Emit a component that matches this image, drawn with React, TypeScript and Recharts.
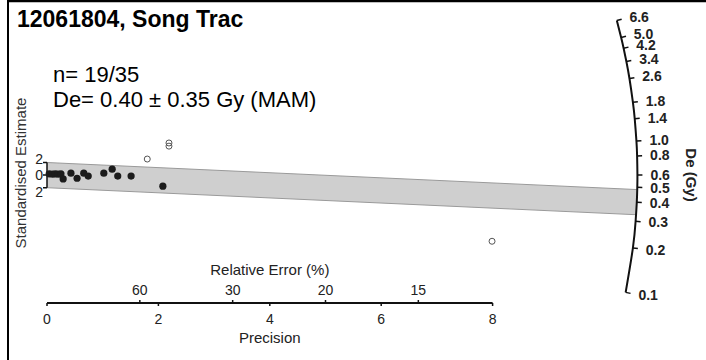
import {
  ComposedChart, XAxis, YAxis, Scatter, Area, Line,
  ReferenceLine, ReferenceDot,
} from 'recharts';

const FONT = '"Liberation Sans", Arial, sans-serif';

const TITLE = '12061804, Song Trac';
const N_LABEL = 'n= 19/35';
const DE_LABEL = 'De= 0.40 ± 0.35 Gy (MAM)';

// centring value of the radial plot and the MAM result (Gy)
const REF_DE = 0.6;
const MAM_DE = 0.40;

// grains inside the ±2 band: precision (1/σ) and standardised estimate
const IN_PRECISION = [0.04, 0.1, 0.15, 0.2, 0.25, 0.29, 0.43, 0.54, 0.66, 0.74, 1.02, 1.17, 1.27, 1.51, 2.08];
const IN_ESTIMATE = [0.2, 0.15, 0.2, 0.15, 0.2, -0.6, 0.3, -0.5, 0.3, -0.15, 0.3, 0.95, -0.15, -0.15, -1.75];
// grains outside the band
const OUT_PRECISION = [1.8, 2.19, 2.19, 7.99];
const OUT_ESTIMATE = [2.55, 5.1, 4.6, -10.5];

const PRECISION_TICKS = [0, 2, 4, 6, 8];
const REL_ERROR_TICKS = [60, 30, 20, 15];
const DE_TICKS = [6.6, 5.0, 4.2, 3.4, 2.6, 1.8, 1.4, 1.0, 0.8, 0.6, 0.5, 0.4, 0.3, 0.2, 0.1];
const Z_TICKS = [2, 0, -2];

// plot geometry
const X_MIN = -0.8;
const X_MAX = 11.6;
const Y_MIN = -20.3;
const Y_MAX = 26.2;
const PX_X = 55.7;   // px per precision unit
const PX_Y = 6.3;    // px per standardised unit
const K = PX_Y / PX_X;
const ARC_R = 10.6;  // radius of the De axis, precision units

const inData = IN_PRECISION.map((x, i) => ({ x, y: IN_ESTIMATE[i] }));
const outData = OUT_PRECISION.map((x, i) => ({ x, y: OUT_ESTIMATE[i] }));

function arcPoint(de: number) {
  const s = Math.log(de) - Math.log(REF_DE);
  const x = ARC_R / Math.sqrt(1 + (s * K) ** 2);
  return { x, y: s * x, s, label: de.toFixed(1) };
}
const arcData = DE_TICKS.map(arcPoint);

const slope = Math.log(MAM_DE) - Math.log(REF_DE);
const bandEnd = ARC_R / Math.sqrt(1 + (slope * K) ** 2);
const bandData = [
  { x: 0, band: [-2, 2] },
  { x: bandEnd, band: [slope * bandEnd - 2, slope * bandEnd + 2] },
];

const reData = REL_ERROR_TICKS.map(re => ({ x: 100 / re, y: Y_MIN, label: String(re) }));
const zData = Z_TICKS.map(z => ({ x: 0, y: z, label: String(Math.abs(z)) }));

const ArcTick = (p: any) => {
  const th = Math.atan(p.payload.s * K);
  const dx = Math.cos(th), dy = -Math.sin(th);
  return (
    <g>
      <line x1={p.cx} y1={p.cy} x2={p.cx + 5 * dx} y2={p.cy + 5 * dy} stroke="#111" strokeWidth={1.5} />
      <text x={p.cx + 13 * dx} y={p.cy + 13 * dy + 5} fontSize={14} fontWeight="bold"
        fill="#222" fontFamily={FONT}>{p.payload.label}</text>
    </g>
  );
};

const ZTick = (p: any) => {
  const shift = p.payload.y > 0 ? -4 : p.payload.y < 0 ? 4 : 0;
  return (
    <g>
      <line x1={p.cx - 4} y1={p.cy} x2={p.cx} y2={p.cy} stroke="#111" strokeWidth={1.5} />
      <text x={p.cx - 4} y={p.cy + 5 + shift} fontSize={14} textAnchor="end"
        fill="#222" fontFamily={FONT}>{p.payload.label}</text>
    </g>
  );
};

const ReTick = (p: any) => (
  <g>
    <line x1={p.cx} y1={p.cy} x2={p.cx} y2={p.cy - 3} stroke="#111" strokeWidth={1.5} />
    <text x={p.cx} y={p.cy - 8} fontSize={14} textAnchor="middle"
      fill="#222" fontFamily={FONT}>{p.payload.label}</text>
  </g>
);

const Filled = (p: any) => <circle cx={p.cx} cy={p.cy} r={3.6} fill="#1c1c1c" />;
const Open = (p: any) => <circle cx={p.cx} cy={p.cy} r={3} fill="none" stroke="#555" strokeWidth={1} />;

export default function App() {
  return (
    <div style={{ position: 'absolute', left: 0, top: 0, width: 706, height: 360, background: '#fff' }}>
      <ComposedChart
        width={706}
        height={360}
        margin={{ top: 10.05, right: 12.88, left: 2.44, bottom: 17 }}
      >
        <XAxis
          type="number"
          dataKey="x"
          domain={[X_MIN, X_MAX]}
          allowDataOverflow
          ticks={PRECISION_TICKS}
          interval={0}
          axisLine={false}
          tickLine={{ stroke: '#111', strokeWidth: 1.5 }}
          tickSize={3}
          tickMargin={8}
          height={40}
          tick={{ fontSize: 14, fill: '#222', fontFamily: FONT }}
        />
        <YAxis type="number" dataKey="y" domain={[Y_MIN, Y_MAX]} allowDataOverflow hide />

        <Area
          data={bandData}
          dataKey="band"
          type="linear"
          fill="#cfcfcf"
          fillOpacity={1}
          stroke="#9a9a9a"
          strokeWidth={1}
          isAnimationActive={false}
        />

        <ReferenceLine segment={[{ x: 0, y: Y_MIN }, { x: 8, y: Y_MIN }]} stroke="#111" strokeWidth={2} ifOverflow="visible" />
        <ReferenceLine segment={[{ x: 0, y: -2 }, { x: 0, y: 2 }]} stroke="#111" strokeWidth={1.5} ifOverflow="visible" />

        <ReferenceDot
          x={4} y={Y_MIN} r={0} fill="none" stroke="none" ifOverflow="visible"
          label={{ value: 'Relative Error (%)', position: 'top', offset: 28, fontSize: 15, fill: '#222', fontFamily: FONT }}
        />
        <ReferenceDot
          x={4} y={Y_MIN} r={0} fill="none" stroke="none" ifOverflow="visible"
          label={{ value: 'Precision', position: 'bottom', offset: 29, fontSize: 15, fill: '#222', fontFamily: FONT }}
        />

        <Line
          data={arcData}
          dataKey="y"
          type="natural"
          stroke="#111"
          strokeWidth={2}
          dot={false}
          isAnimationActive={false}
        />
        <Scatter data={arcData} shape={ArcTick} isAnimationActive={false} />
        <Scatter data={reData} shape={ReTick} isAnimationActive={false} />
        <Scatter data={zData} shape={ZTick} isAnimationActive={false} />

        <Scatter data={outData} shape={Open} isAnimationActive={false} />
        <Scatter data={inData} shape={Filled} isAnimationActive={false} />
      </ComposedChart>

      <svg width={706} height={360} style={{ position: 'absolute', left: 0, top: 0, pointerEvents: 'none' }}>
        <line x1={8} y1={0} x2={8} y2={360} stroke="#000" strokeWidth={2} />
        <line x1={7} y1={1} x2={706} y2={1} stroke="#000" strokeWidth={2.5} />
        <text x={17} y={27} fontSize={23} fontWeight="bold" fill="#000" fontFamily={FONT}>{TITLE}</text>
        <text x={53} y={82} fontSize={22} fill="#000" fontFamily={FONT}>{N_LABEL}</text>
        <text x={53} y={107} fontSize={22} fill="#000" fontFamily={FONT}>{DE_LABEL}</text>
        <text transform="translate(26,173) rotate(-90)" fontSize={15} textAnchor="middle"
          fill="#333" fontFamily={FONT}>Standardised Estimate</text>
        <text transform="translate(686,175) rotate(90)" fontSize={15} fontWeight="bold" textAnchor="middle"
          fill="#222" fontFamily={FONT}>De (Gy)</text>
      </svg>
    </div>
  );
}
